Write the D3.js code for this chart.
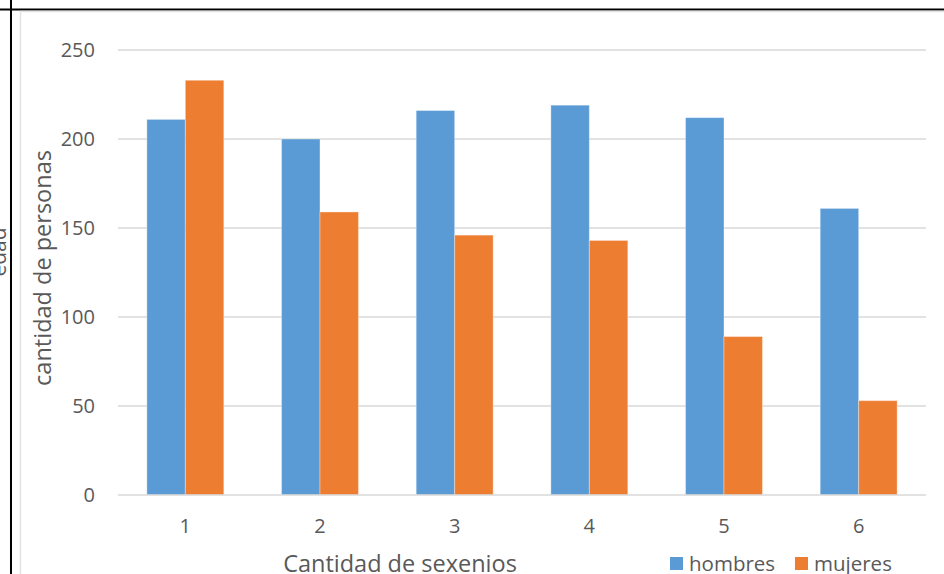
<!DOCTYPE html>
<html>
<head>
<meta charset="utf-8">
<script src="https://cdn.jsdelivr.net/npm/d3@7"></script>
<style>
  html, body { margin: 0; padding: 0; background: #fff; }
  svg { display: block; }
  text { font-family: "Open Sans", Lato, sans-serif; fill: #595959; }
</style>
</head>
<body>
<svg id="chart" width="944" height="574"></svg>
<script>
// Categories: number of six-year terms
const categories = ["1", "2", "3", "4", "5", "6"];
const seriesNames = ["hombres", "mujeres"];
const hombres = [211, 200, 216, 219, 212, 161];
const mujeres = [233, 159, 146, 143, 89, 53];
const yTicks = [0, 50, 100, 150, 200, 250];
const colors = ["#5B9BD5", "#ED7D31"];

const svg = d3.select("#chart");
const W = 944, H = 574;
const plot = { left: 118, right: 926, top: 50, bottom: 495 };
const FONT = "'Open Sans', Lato, sans-serif";

// Frame lines along the top and left edge
svg.append("line").attr("x1", 0).attr("x2", W).attr("y1", 9.5).attr("y2", 9.5)
  .attr("stroke", "#000").attr("stroke-width", 2);
svg.append("line").attr("x1", 11).attr("x2", 11).attr("y1", 0).attr("y2", H)
  .attr("stroke", "#000").attr("stroke-width", 2);
// Light chart-area border
svg.append("line").attr("x1", 20).attr("x2", W).attr("y1", 11.5).attr("y2", 11.5)
  .attr("stroke", "#e3e3e3").attr("stroke-width", 1.5);
svg.append("line").attr("x1", 20.5).attr("x2", 20.5).attr("y1", 11).attr("y2", H)
  .attr("stroke", "#e3e3e3").attr("stroke-width", 1.5);

// Clipped label from the neighbouring chart
svg.append("text")
  .attr("transform", "translate(6,252) rotate(-90)")
  .attr("text-anchor", "middle")
  .style("font-size", "21px")
  .text("edad");

const x0 = d3.scaleBand().domain(categories).range([plot.left, plot.right]).paddingInner(0).paddingOuter(0);
const barW = x0.bandwidth() / 3.5;
const y = d3.scaleLinear().domain([0, 250]).range([plot.bottom, plot.top]);

// Gridlines
svg.append("g").selectAll("line").data(yTicks.filter(d => d > 0)).join("line")
  .attr("x1", plot.left).attr("x2", plot.right)
  .attr("y1", d => y(d)).attr("y2", d => y(d))
  .attr("stroke", "#d9d9d9").attr("stroke-width", 1.5);

// Y axis labels
const yAxis = d3.axisLeft(y).tickValues(yTicks).tickSize(0).tickPadding(0);
const gy = svg.append("g").attr("transform", `translate(95,0)`).call(yAxis);
gy.select(".domain").remove();
gy.selectAll("text").style("font-size", "20px").attr("fill", "#595959")
  .style("font-family", FONT);

// Bars
const data = categories.map((c, i) => ({ c, vals: [hombres[i], mujeres[i]] }));
const groups = svg.append("g").selectAll("g").data(data).join("g");
groups.selectAll("rect").data(d => d.vals.map((v, k) => ({ c: d.c, v, k }))).join("rect")
  .attr("x", d => x0(d.c) + x0.bandwidth() / 2 + (d.k - 1) * barW)
  .attr("y", d => y(d.v))
  .attr("width", barW)
  .attr("height", d => y(0) - y(d.v))
  .attr("fill", d => colors[d.k])
  .attr("stroke", "#fff").attr("stroke-opacity", 0.35).attr("stroke-width", 1);

// Baseline
svg.append("line").attr("x1", plot.left).attr("x2", plot.right)
  .attr("y1", y(0)).attr("y2", y(0))
  .attr("stroke", "#d9d9d9").attr("stroke-width", 1.5);

// X axis labels
const xAxis = d3.axisBottom(x0).tickSize(0).tickPadding(0);
const gx = svg.append("g").attr("transform", `translate(0,${plot.bottom})`).call(xAxis);
gx.select(".domain").remove();
gx.selectAll("text").style("font-size", "20px").attr("fill", "#595959")
  .attr("dy", null).attr("y", 38)
  .style("font-family", FONT);

// Axis titles
svg.append("text").attr("x", 400).attr("y", 572).attr("text-anchor", "middle")
  .style("font-size", "23.5px").text("Cantidad de sexenios");
svg.append("text").attr("transform", "translate(51,268) rotate(-90)").attr("text-anchor", "middle")
  .style("font-size", "23.5px").text("cantidad de personas");

// Legend
const legend = svg.append("g");
const legendX = [670, 795];
seriesNames.forEach((name, i) => {
  legend.append("rect").attr("x", legendX[i]).attr("y", 557).attr("width", 13).attr("height", 13).attr("fill", colors[i]);
  legend.append("text").attr("x", legendX[i] + 19).attr("y", 571).style("font-size", "20.5px").text(name);
});
</script>
</body>
</html>
